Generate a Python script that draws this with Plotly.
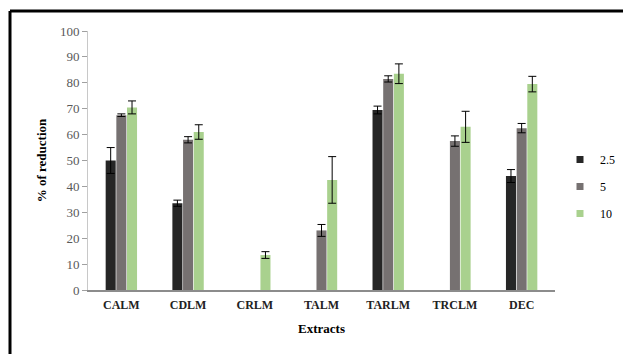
import plotly.graph_objects as go

categories = ["CALM", "CDLM", "CRLM", "TALM", "TARLM", "TRCLM", "DEC"]
series_names = ["2.5", "5", "10"]
vals_25 = [50, 33.5, None, None, 69.5, None, 44]
vals_5 = [67.5, 58, None, 23, 81.5, 57.5, 62.5]
vals_10 = [70.5, 61, 13.5, 42.5, 83.5, 63, 79.5]
err_25 = [5, 1.2, 0, 0, 1.5, 0, 2.5]
err_5 = [0.5, 1.2, 0, 2.3, 1.2, 2, 1.8]
err_10 = [2.5, 2.8, 1.3, 9, 3.8, 6, 3]
y_ticks = [0, 10, 20, 30, 40, 50, 60, 70, 80, 90, 100]

colors = ["#262626", "#767171", "#a9d18e"]
serif = "Liberation Serif"

fig = go.Figure()
for name, vals, errs, col in zip(series_names, [vals_25, vals_5, vals_10],
                                 [err_25, err_5, err_10], colors):
    fig.add_trace(go.Bar(
        x=categories, y=vals, name=name, showlegend=False,
        marker=dict(color=col, line=dict(width=0)),
        error_y=dict(type="data", array=errs, visible=True,
                     color="#000000", thickness=1, width=4),
    ))
    fig.add_trace(go.Scatter(
        x=[None], y=[None], mode="markers", name=name, legendgroup=name,
        marker=dict(symbol="square", size=7, color=col),
    ))

W, H = 623, 354
ml, mr, mt, mb = 88, 68, 31, 64
pw, ph = W - ml - mr, H - mt - mb

fig.update_layout(
    width=W, height=H,
    margin=dict(l=ml, r=mr, t=mt, b=mb, autoexpand=False),
    paper_bgcolor="white", plot_bgcolor="white",
    barmode="group", bargap=0.52, bargroupgap=0.06,
    font=dict(family=serif, size=12, color="#000000"),
    legend=dict(x=(560 - ml) / pw, y=(H - mb - 145) / ph,
                xanchor="left", yanchor="top",
                font=dict(family=serif, size=12, color="#000000"),
                itemwidth=30, tracegroupgap=8,
                bgcolor="rgba(0,0,0,0)"),
    xaxis=dict(
        showgrid=False, showline=True, linecolor="#8c8c8c", linewidth=2,
        ticks="", ticklabelstandoff=3,
        tickfont=dict(family=serif, size=12, color="#222222", weight="bold"),
        title=dict(text="<b>Extracts</b>", font=dict(family=serif, size=13),
                   standoff=12),
    ),
    yaxis=dict(
        range=[0, 100], tickvals=y_ticks, showgrid=False, zeroline=False,
        showline=True, linecolor="#c8c8c8", linewidth=1,
        ticks="outside", ticklen=5, tickcolor="#a0a0a0",
        tickfont=dict(family=serif, size=13, color="#595959"),
        title=dict(text="<b>% of reduction</b>",
                   font=dict(family=serif, size=13), standoff=10),
    ),
)

# frame lines of the picture (top and left)
fig.add_shape(type="line", xref="paper", yref="paper",
              x0=(10 - ml) / pw, x1=(W - ml) / pw,
              y0=(H - mb - 11) / ph, y1=(H - mb - 11) / ph,
              line=dict(color="black", width=3))
fig.add_shape(type="line", xref="paper", yref="paper",
              x0=(10 - ml) / pw, x1=(10 - ml) / pw,
              y0=(H - mb - 11) / ph, y1=(H - mb - H) / ph,
              line=dict(color="black", width=3))

fig.write_html("out.html", config={"displayModeBar": False},
               post_script="document.body.style.margin='0';")
